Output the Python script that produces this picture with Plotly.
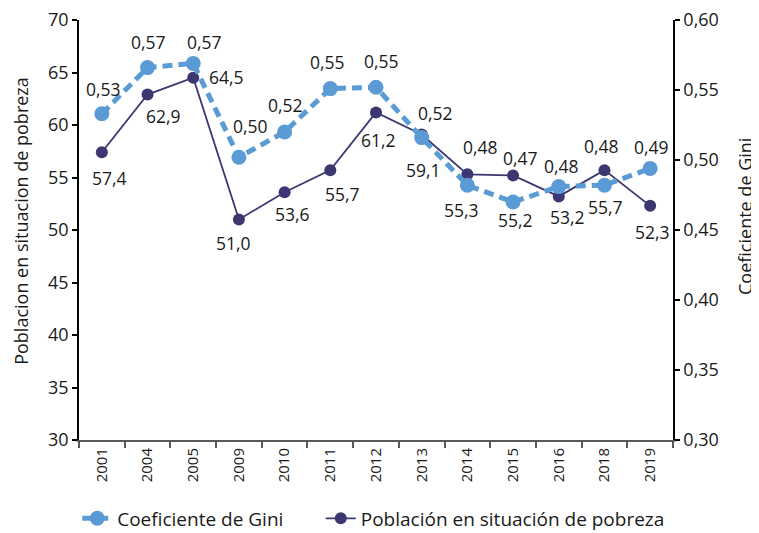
import plotly.graph_objects as go

years = ["2001", "2004", "2005", "2009", "2010", "2011", "2012",
         "2013", "2014", "2015", "2016", "2018", "2019"]
pobreza = [57.4, 62.9, 64.5, 51.0, 53.6, 55.7, 61.2, 59.1, 55.3, 55.2, 53.2, 55.7, 52.3]
gini = [0.533, 0.566, 0.569, 0.502, 0.520, 0.551, 0.552, 0.516, 0.482, 0.470, 0.481, 0.482, 0.494]

# label offsets in pixels (dx, dy downwards)
pob_off = [(8, 26), (16, 21), (33, -1), (-5, 23), (8, 22), (12, 24), (2, 28),
           (2, 36), (-6, 36), (2, 45), (9, 21), (1, 37), (2, 26)]
gini_off = [(2, -25), (1, -26), (11, -21), (12, -31), (1, -27), (-3, -27), (5, -26),
            (14, -25), (13, -38), (7, -44), (3, -21), (-3, -39), (1, -21)]

FONT = "Open Sans"
DARK = "#3d3771"
BLUE = "#5b9bd5"
TXT = "#1a1a1a"

fig = go.Figure()
fig.add_trace(go.Scatter(
    x=years, y=pobreza, name="Población en situación de pobreza",
    mode="lines+markers", yaxis="y", legend="legend2",
    line=dict(color=DARK, width=1.8),
    marker=dict(color=DARK, size=12),
))
fig.add_trace(go.Scatter(
    x=years, y=gini, name="Coeficiente de Gini",
    mode="lines+markers", yaxis="y2", legend="legend",
    line=dict(color=BLUE, width=5, dash="10px,6px"),
    marker=dict(color=BLUE, size=15),
))

LBL = dict(family=FONT, size=17.5, color=TXT)
ann = []
for i, (v, (dx, dy)) in enumerate(zip(pobreza, pob_off)):
    ann.append(dict(x=i, y=v, xref="x", yref="y", text=f"{v:.1f}".replace(".", ","),
                    showarrow=False, xshift=dx, yshift=-dy, font=LBL))
for i, (v, (dx, dy)) in enumerate(zip(gini, gini_off)):
    ann.append(dict(x=i, y=v, xref="x", yref="y2", text=f"{v:.2f}".replace(".", ","),
                    showarrow=False, xshift=dx, yshift=-dy, font=LBL))
ann.append(dict(x=-0.0966, y=0.521, xref="paper", yref="paper",
                xanchor="center", yanchor="middle",
                text="Poblacion en situacion de pobreza", textangle=-90,
                showarrow=False, font=dict(family=FONT, size=18, color=TXT)))
ann.append(dict(x=1.121, y=0.533, xref="paper", yref="paper",
                xanchor="center", yanchor="middle",
                text="Coeficiente de Gini", textangle=-90,
                showarrow=False, font=dict(family=FONT, size=18, color=TXT)))

leg_font = dict(family=FONT, size=19, color=TXT)
fig.update_layout(
    # the page body has an 8px margin: figure is sized/offset to compensate
    width=751, height=525,
    margin=dict(l=71, r=86, t=12, b=93, autoexpand=False),
    paper_bgcolor="white", plot_bgcolor="white",
    separators=",.",
    font=dict(family=FONT, size=17, color=TXT),
    showlegend=True,
    legend=dict(orientation="h", x=-0.003, xanchor="left", y=-0.232, yanchor="bottom",
                font=leg_font, bgcolor="rgba(0,0,0,0)"),
    legend2=dict(orientation="h", x=0.407, xanchor="left", y=-0.232, yanchor="bottom",
                 font=leg_font, bgcolor="rgba(0,0,0,0)"),
    xaxis=dict(type="category", range=[-0.5, 12.5], showgrid=False, automargin=False,
               showline=True, linecolor="#595959", linewidth=2,
               ticks="outside", tickson="boundaries", ticklen=6, tickcolor="#595959",
               tickwidth=1.5, tickangle=-90, tickfont=dict(size=15)),
    yaxis=dict(range=[30, 70], dtick=5, showgrid=False, zeroline=False, automargin=False,
               showline=True, linecolor="black", linewidth=1.5, tickfont=dict(size=18),
               ticklabeloverflow="allow",
               ticks="outside", ticklen=5, tickcolor="black", tickwidth=1.5),
    yaxis2=dict(range=[0.30, 0.60], dtick=0.05, tickformat=".2f", overlaying="y",
                side="right", showgrid=False, zeroline=False, automargin=False,
                showline=True, linecolor="black", linewidth=1.5, tickfont=dict(size=18),
                ticklabeloverflow="allow",
                ticks="outside", ticklen=5, tickcolor="black", tickwidth=1.5),
    annotations=ann,
)

fig.write_html("out.html")
